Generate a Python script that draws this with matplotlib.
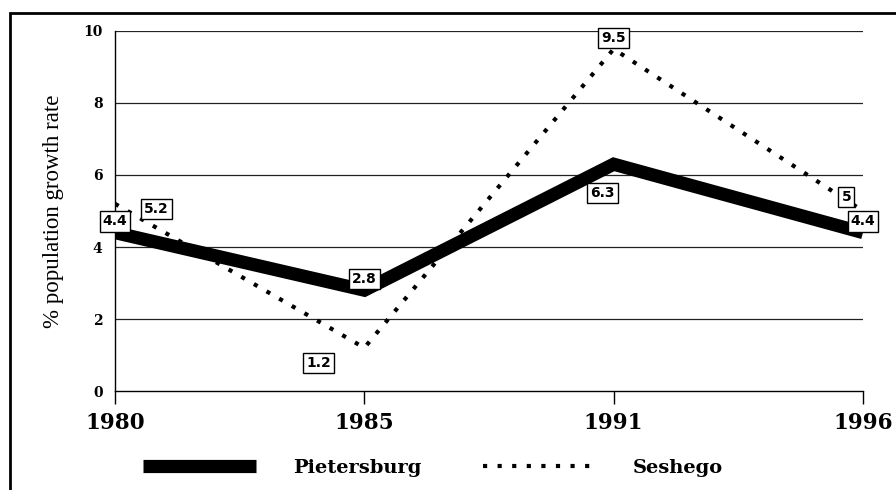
import matplotlib
matplotlib.use("Agg")
import matplotlib.pyplot as plt
from matplotlib.patches import Rectangle

years = ["1980", "1985", "1991", "1996"]
pietersburg = [4.4, 2.8, 6.3, 4.4]
seshego = [5.2, 1.2, 9.5, 5.0]
pieter_labels = ["4.4", "2.8", "6.3", "4.4"]
seshego_labels = ["5.2", "1.2", "9.5", "5"]
y_ticks = [0, 2, 4, 6, 8, 10]

W, H = 896, 490
fig = plt.figure(figsize=(W / 100, H / 100), dpi=100)
ax = fig.add_axes([115 / W, 1 - 391 / H, (863 - 115) / W, (391 - 31) / H])

x = list(range(len(years)))
for yv in y_ticks[1:]:
    ax.axhline(yv, color="#222222", lw=0.9, zorder=1)

ax.plot(x, pietersburg, color="black", lw=9.5, solid_joinstyle="miter",
        solid_capstyle="butt", label="Pietersburg", zorder=3)
ax.plot(x, seshego, color="black", lw=3, linestyle=(0, (1, 2.5)),
        dash_capstyle="butt", label="Seshego", zorder=2)

ax.set_xlim(0, 3)
ax.set_ylim(0, 10)
ax.set_xticks(x)
ax.set_xticklabels(years, fontfamily="DejaVu Serif", fontweight="bold", fontsize=15.5)
ax.set_yticks(y_ticks)
ax.set_yticklabels([str(v) for v in y_ticks], fontfamily="DejaVu Serif",
                   fontweight="bold", fontsize=10)
ax.tick_params(axis="x", direction="out", length=9, width=1, pad=6)
ax.tick_params(axis="y", length=0, pad=9)
for s in ["top", "right"]:
    ax.spines[s].set_visible(False)
ax.spines["left"].set_linewidth(1)
ax.spines["bottom"].set_linewidth(1)
ax.set_ylabel("% population growth rate", fontfamily="Liberation Serif",
              fontsize=16.5, labelpad=14)

box = dict(boxstyle="square,pad=0.22", fc="white", ec="black", lw=1)
p_off = [(0, 8), (0, 8), (-8, -21), (0, 8)]
s_off = [(30, -4), (-33, -11), (0, 8), (-12, 10)]
for i in range(4):
    ax.annotate(pieter_labels[i], (x[i], pietersburg[i]), xytext=p_off[i],
                textcoords="offset points", ha="center", va="center",
                fontsize=10, fontweight="bold", bbox=box, zorder=5,
                annotation_clip=False)
    ax.annotate(seshego_labels[i], (x[i], seshego[i]), xytext=s_off[i],
                textcoords="offset points", ha="center", va="center",
                fontsize=10, fontweight="bold", bbox=box, zorder=5,
                annotation_clip=False)

leg = fig.legend(loc="center left", bbox_to_anchor=(143 / W, 1 - 468 / H),
                 ncol=2, frameon=False, handlelength=5.8, handletextpad=1.9,
                 columnspacing=3.2, borderaxespad=0, borderpad=0,
                 prop={"family": "DejaVu Serif", "weight": "bold", "size": 14})

fig.patches.append(Rectangle((10 / W, -0.05), 1.05, 1 - 13 / H + 0.05,
                             transform=fig.transFigure, fill=False,
                             ec="black", lw=2, clip_on=False))

fig.savefig("out.png", dpi=100)
